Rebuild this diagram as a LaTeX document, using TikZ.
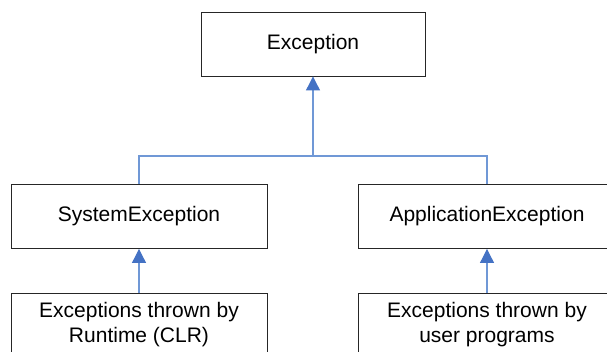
\documentclass[tikz,border=0pt]{standalone}
\usepackage{fontspec}
\setmainfont{Liberation Sans}
\usetikzlibrary{arrows.meta}
\definecolor{linkline}{RGB}{112,152,214}
\definecolor{linkhead}{RGB}{68,114,196}
\begin{document}
\begin{tikzpicture}[x=1pt,y=-1pt,
  classbox/.style={draw=black!85,line width=0.9pt,fill=white,minimum height=64pt,
    inner sep=0pt,align=center,font=\fontsize{21}{25}\selectfont},
  link/.style={draw=linkline,line width=1.1pt},
  inherit/.style={link,-{Triangle[length=14pt,width=14pt,fill=linkhead,color=linkhead]}}]
  \useasboundingbox (0,0) rectangle (607,352);
  \clip (0,0) rectangle (607,352);
  % class boxes
  \node[classbox,minimum width=224pt] (ex)  at (313,44)  {Exception};
  \node[classbox,minimum width=256pt] (sys) at (139,216.5) {SystemException};
  \node[classbox,minimum width=258pt] (app) at (487,216.5) {ApplicationException};
  \node[classbox,minimum width=256pt] (clr) at (139,325) {Exceptions thrown by\\Runtime (CLR)};
  \node[classbox,minimum width=258pt] (usr) at (487,325) {Exceptions thrown by\\user programs};
  % inheritance tree
  \coordinate (j) at (313,156);
  \draw[link] (sys.north) -- (sys.north |- j) -- (app.north |- j) -- (app.north);
  \draw[inherit] (j) -- (ex.south);
  \draw[inherit] (clr.north) -- (sys.south);
  \draw[inherit] (usr.north) -- (app.south);
\end{tikzpicture}
\end{document}
